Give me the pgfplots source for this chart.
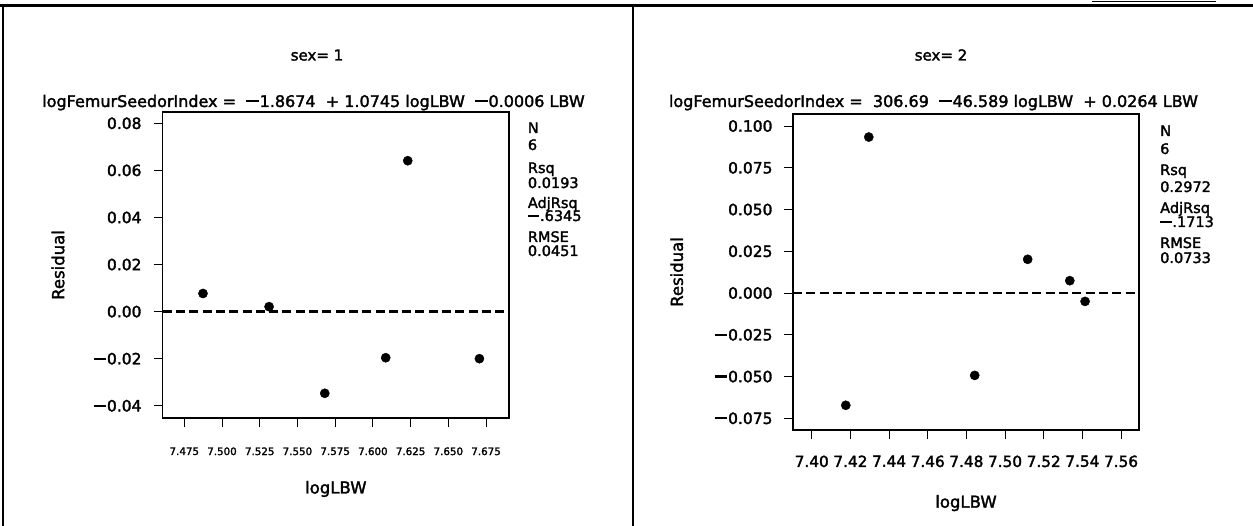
\documentclass[border=0pt]{standalone}
\usepackage{fontspec}
\setmainfont{DejaVu Sans}[FakeBold=2]
\usepackage{pgfplots}
\pgfplotsset{compat=1.18}
\newcommand\mn{\rule[0.29em]{0.78em}{0.15em}\kern0.06em}
\newcommand\fs[1]{\fontsize{#1}{#1}\selectfont}
\pgfplotsset{resid/.style={scale only axis, anchor=south west,
  scaled x ticks=false, scaled y ticks=false,
  axis line style={line width=1.2pt}, tick align=outside, tick pos=left,
  major tick length=9pt, every tick/.style={black,line width=1pt},
  yticklabel style={font=\fs{15.5}, anchor=east, inner sep=0pt},
  xticklabel style={anchor=north, inner sep=0pt},
  xlabel={logLBW}, ylabel={Residual}, label style={font=\fs{16.5}, inner sep=0pt}}}
\begin{document}
\begin{tikzpicture}
\useasboundingbox (0pt,0pt) rectangle (1253pt,-526pt);
\draw[line width=2.5pt] (0pt,-5.5pt) -- (1253pt,-5.5pt);
\draw[line width=2pt] (3pt,-5.5pt) -- (3pt,-526pt);
\draw[line width=2pt] (632.5pt,-5.5pt) -- (632.5pt,-526pt);
\draw[line width=1.5pt] (1092pt,-1.5pt) -- (1216pt,-1.5pt);

\node[font=\fs{15}, anchor=base, inner sep=0pt] at (317pt,-60.5pt) {sex= 1};
\node[font=\fs{15}, anchor=base, inner sep=0pt] at (941pt,-60.5pt) {sex= 2};
\node[font=\fs{16}, anchor=base, inner sep=0pt] at (313.5pt,-107pt) {logFemurSeedorIndex\ =\ \ \mn1.8674\ \ +\ 1.0745\ logLBW\ \ \mn0.0006\ LBW};
\node[font=\fs{16}, anchor=base, inner sep=0pt] at (933.5pt,-107pt) {logFemurSeedorIndex\ =\ \ 306.69\ \ \mn46.589\ logLBW\ \ +\ 0.0264\ LBW};

\begin{scope}[every node/.style={font=\fs{14.5}, anchor=base west, inner sep=0pt}]
\node at (527.7pt,-133pt) {N};
\node at (527.7pt,-150pt) {6};
\node at (527.7pt,-173pt) {Rsq};
\node at (527.7pt,-188pt) {0.0193};
\node at (527.7pt,-208pt) {AdjRsq};
\node at (527.7pt,-221pt) {\mn.6345};
\node at (527.7pt,-242pt) {RMSE};
\node at (527.7pt,-256pt) {0.0451};
\node at (1160pt,-136pt) {N};
\node at (1160pt,-154pt) {6};
\node at (1160pt,-175pt) {Rsq};
\node at (1160pt,-192pt) {0.2972};
\node at (1160pt,-213pt) {AdjRsq};
\node at (1160pt,-227pt) {\mn.1713};
\node at (1160pt,-248pt) {RMSE};
\node at (1160pt,-263pt) {0.0733};
\end{scope}

\begin{axis}[resid, at={(162.7pt,-418pt)}, width=346.3pt, height=306pt,
  xmin=7.4607, xmax=7.6902, ymin=-0.0452, ymax=0.0848,
  xtick={7.475,7.5,7.525,7.55,7.575,7.6,7.625,7.65,7.675},
  xticklabels={7.475,7.500,7.525,7.550,7.575,7.600,7.625,7.650,7.675},
  xticklabel style={font=\fs{10.3}, yshift=-20.2pt},
  ytick={-0.04,-0.02,0,0.02,0.04,0.06,0.08},
  yticklabels={\mn0.04,\mn0.02,0.00,0.02,0.04,0.06,0.08},
  yticklabel style={xshift=-12pt},
  xlabel style={at={(axis description cs:0.5,-0.2467)}, anchor=base},
  ylabel style={at={(axis description cs:-0.3023,0.5)}, anchor=center}]
\addplot[black, line width=2.7pt, dash pattern=on 9pt off 4.3pt] coordinates {(7.4607,0) (7.6902,0)};
\addplot[only marks, mark=*, mark size=4.6pt, black] table {
x y
7.4874 0.0077
7.5312 0.0021
7.5681 -0.0347
7.6085 -0.0196
7.6231 0.0641
7.6706 -0.0200
};
\end{axis}

\begin{axis}[resid, at={(793pt,-430pt)}, width=346pt, height=316pt,
  xmin=7.3903, xmax=7.5693, ymin=-0.0820, ymax=0.1072,
  xtick={7.40,7.42,7.44,7.46,7.48,7.50,7.52,7.54,7.56},
  xticklabels={7.40,7.42,7.44,7.46,7.48,7.50,7.52,7.54,7.56},
  xticklabel style={font=\fs{15.3}, yshift=-16.4pt},
  ytick={-0.075,-0.05,-0.025,0,0.025,0.05,0.075,0.1},
  yticklabels={\mn0.075,\mn0.050,\mn0.025,0.000,0.025,0.050,0.075,0.100},
  yticklabel style={xshift=-11.3pt},
  xlabel style={at={(axis description cs:0.5,-0.2459)}, anchor=base},
  ylabel style={at={(axis description cs:-0.3361,0.5)}, anchor=center}]
\addplot[black, line width=2.7pt, dash pattern=on 9pt off 4.3pt] coordinates {(7.3903,0) (7.5693,0)};
\addplot[only marks, mark=*, mark size=4.6pt, black] table {
x y
7.4176 -0.0672
7.4295 0.0934
7.4843 -0.0493
7.5117 0.0202
7.5335 0.0074
7.5414 -0.0050
};
\end{axis}
\end{tikzpicture}
\end{document}
